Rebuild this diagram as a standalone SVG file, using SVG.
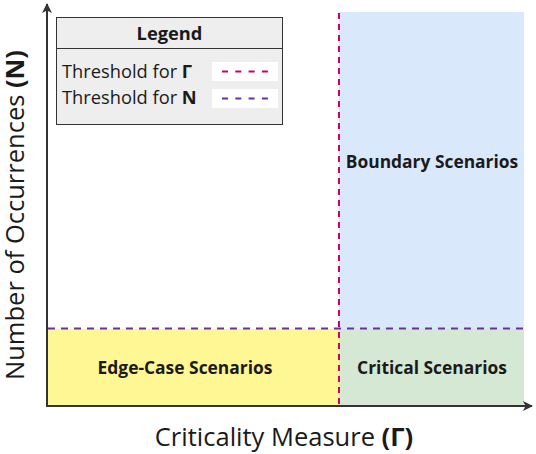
<svg xmlns="http://www.w3.org/2000/svg" width="536" height="454" viewBox="0 0 536 454">
<defs>
<style>
text{font-family:"Open Sans","Noto Sans","DejaVu Sans",sans-serif;fill:#1a1a1a}
.lbl{font-size:17.4px;font-weight:bold;text-anchor:middle}
.ax{font-size:25.5px}
.leg{font-size:18.3px}
.b{font-weight:bold}
.axis{stroke:#333;stroke-width:2;fill:none}
</style>
<marker id="ah" viewBox="0 0 10 10" refX="9" refY="5" markerWidth="5" markerHeight="5" orient="auto" markerUnits="strokeWidth">
<path d="M0,0 L10,5 L0,10 L2.5,5 Z" fill="#333"/>
</marker>
</defs>
<rect width="536" height="454" fill="#fff"/>
<g id="boundary">
<rect x="339" y="12" width="185" height="317" fill="#dae8fc"/>
<text class="lbl" x="432" y="168">Boundary Scenarios</text>
</g>
<g id="edgecase">
<rect x="47" y="329" width="292" height="77" fill="#fff793"/>
<text class="lbl" x="185" y="374">Edge-Case Scenarios</text>
</g>
<g id="critical">
<rect x="339" y="329" width="185" height="77" fill="#d5e8d4"/>
<text class="lbl" x="432" y="374">Critical Scenarios</text>
</g>
<g id="connectors">
<line x1="339" y1="13" x2="339" y2="406" stroke="#cc0066" stroke-width="2" stroke-dasharray="6,5"/>
<line x1="48" y1="328.5" x2="524" y2="328.5" stroke="#6a30a0" stroke-width="2" stroke-dasharray="7,6"/>
<line class="axis" x1="47" y1="407" x2="47" y2="4" marker-end="url(#ah)"/>
<line class="axis" x1="46" y1="406" x2="532" y2="406" marker-end="url(#ah)"/>
</g>
<g id="xlabel">
<text class="ax" x="284" y="446" text-anchor="middle">Criticality Measure <tspan class="b">(Γ)</tspan></text>
</g>
<g id="ylabel">
<text class="ax" transform="translate(24,215) rotate(-90)" text-anchor="middle">Number of Occurrences <tspan class="b">(N)</tspan></text>
</g>
<g id="legend">
<rect x="56.5" y="17.5" width="226" height="107" fill="#eeeeee" stroke="#333" stroke-width="1"/>
<line x1="56.5" y1="48.5" x2="282.5" y2="48.5" stroke="#333" stroke-width="1"/>
<text class="leg b" x="169.5" y="40" text-anchor="middle">Legend</text>
<text class="leg" x="62" y="78">Threshold for <tspan class="b">Γ</tspan></text>
<text class="leg" x="62" y="104">Threshold for <tspan class="b">N</tspan></text>
<rect x="212" y="62" width="66" height="19" fill="#fff"/>
<rect x="212" y="89" width="66" height="19" fill="#fff"/>
<line x1="222" y1="71.5" x2="268" y2="71.5" stroke="#cc0066" stroke-width="2" stroke-dasharray="6,7.3"/>
<line x1="222" y1="98.5" x2="268" y2="98.5" stroke="#6a30a0" stroke-width="2" stroke-dasharray="6,7.3"/>
</g>
</svg>
